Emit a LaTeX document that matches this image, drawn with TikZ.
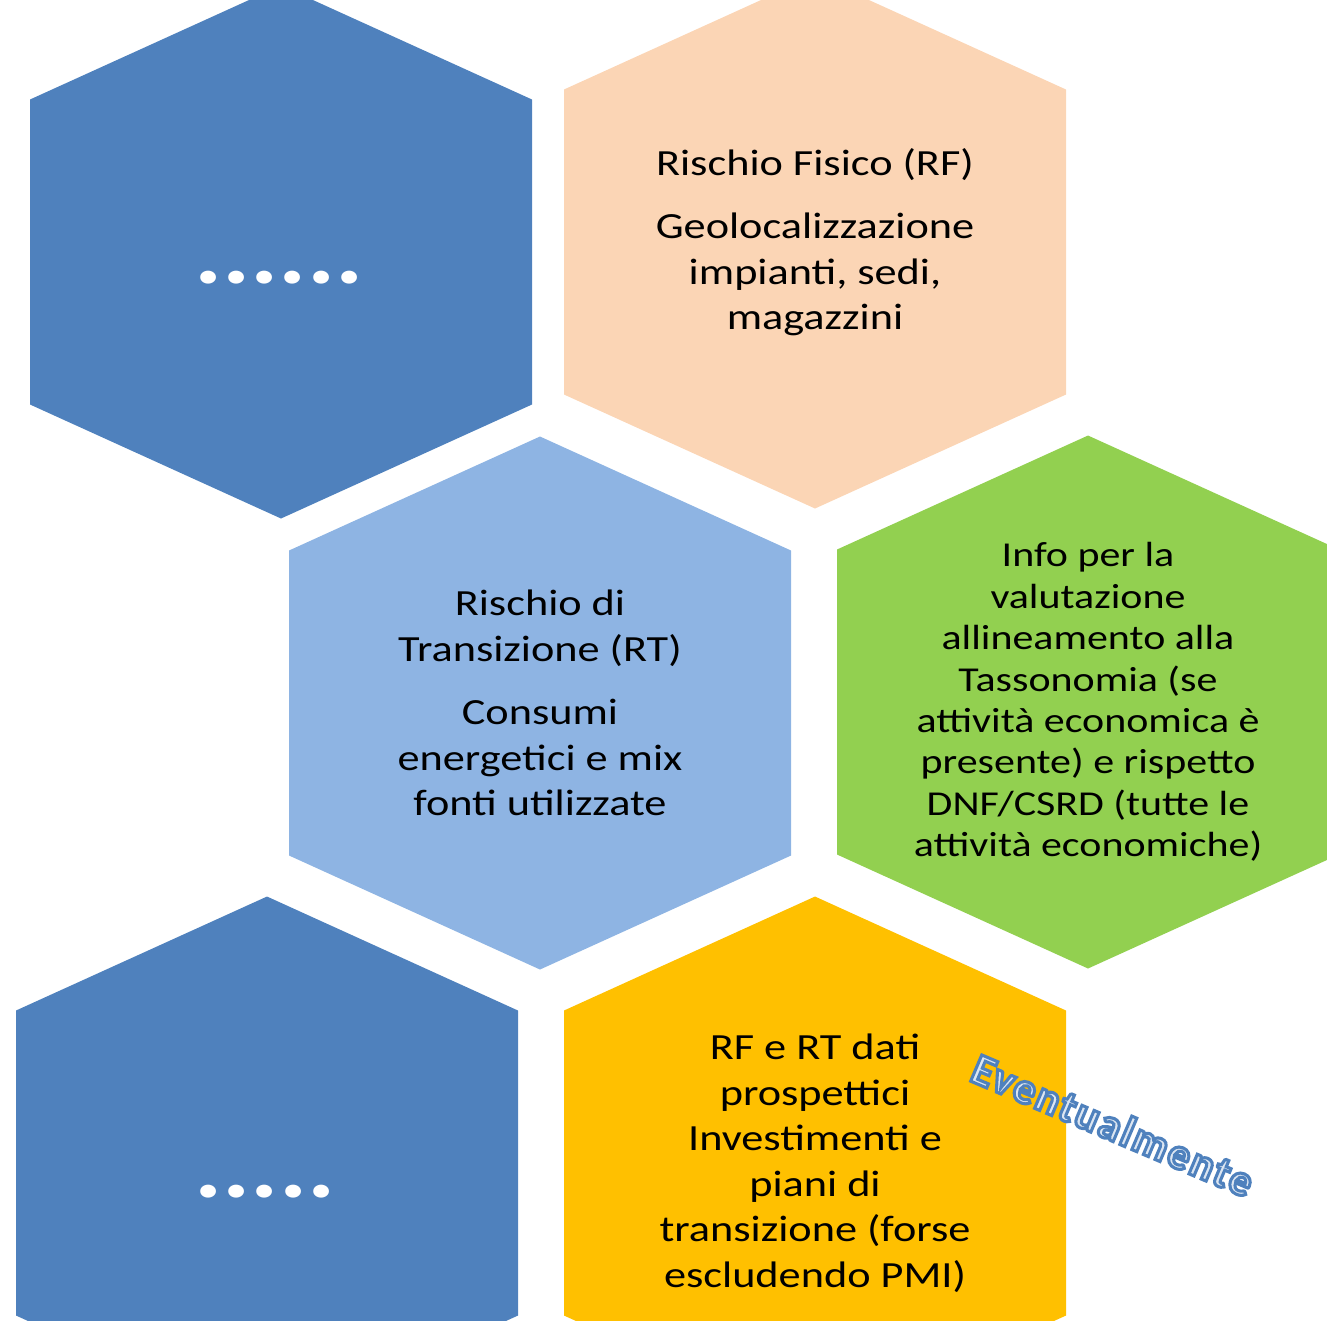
\documentclass[tikz,border=0pt]{standalone}
\usepackage{fontspec}
\setmainfont{Carlito}[FakeStretch=1.2]
\newfontfamily\evtfont{Carlito Bold}[FakeBold=7, LetterSpace=5]
\usepackage{tikz}
\usetikzlibrary{positioning}
\definecolor{hexdark}{HTML}{4F81BD}
\definecolor{hexpeach}{HTML}{FBD5B5}
\definecolor{hexlight}{HTML}{8EB4E3}
\definecolor{hexgreen}{HTML}{92D050}
\definecolor{hexyellow}{HTML}{FFC000}
\definecolor{evfill}{HTML}{DCE6F2}
\tikzstyle{cell} = [align=center, text=black, inner sep=0pt, font=\fontsize{21}{25.9}\selectfont]
\tikzstyle{dots} = [text=white, inner sep=0pt, font=\fontsize{50}{50}\selectfont\bfseries]
\tikzset{
  hexcell/.style={fill=#1},
  smallcell/.style={cell, font=\fontsize{19.9}{23.6}\selectfont}
}
\newcommand{\hexpath}{(-251,-152.5) -- (0,-266.5) -- (251,-152.5) -- (251,152.5) -- (0,266.5) -- (-251,152.5) -- cycle}

\begin{document}
\begin{tikzpicture}[x=0.02cm, y=-0.02cm]
    \clip (0,0) rectangle (1327,1320);
    % centres
    \coordinate (cDotsA) at (281,252);
    \coordinate (cRF)    at (815,242);
    \coordinate (cRT)    at (540,703);
    \coordinate (cTax)   at (1088,702);
    \coordinate (cDotsB) at (267,1163);
    \coordinate (cPlan)  at (815,1163);
    % hexagons
    \fill[hexcell=hexdark,   shift={(cDotsA)}] \hexpath;
    \fill[hexcell=hexpeach,  shift={(cRF)}]    \hexpath;
    \fill[hexcell=hexlight,  shift={(cRT)}]    \hexpath;
    \fill[hexcell=hexgreen,  shift={(cTax)}]   \hexpath;
    \fill[hexcell=hexdark,   shift={(cDotsB)}] \hexpath;
    \fill[hexcell=hexyellow, shift={(cPlan)}]  \hexpath;
    % nodes
    \node (DotsA) [dots] at (279,278) {......};
    \node (RF)    [cell] at (cRF) {Rischio Fisico (RF)\\[0.36cm] Geolocalizzazione\\ impianti, sedi,\\ magazzini};
    \node (RT)    [cell] at (cRT) {Rischio di\\ Transizione (RT)\\[0.36cm] Consumi\\ energetici e mix\\ fonti utilizzate};
    \node (Tax)   [smallcell] at (cTax) {Info per la\\ valutazione\\ allineamento alla\\ Tassonomia (se\\ attività economica è\\ presente) e rispetto\\ DNF/CSRD (tutte le\\ attività economiche)};
    \node (DotsB) [dots] at (265,1192) {.....};
    \node (Plan)  [cell] at (cPlan) {RF e RT dati\\ prospettici\\ Investimenti e\\ piani di\\ transizione (forse\\ escludendo PMI)};
    \node (Evt) [rotate=-23, inner sep=0pt, font=\fontsize{25}{25}\evtfont] at (1113,1125) {\color{evfill}\special{pdf:code 0.310 0.506 0.741 RG}Eventualmente};
\end{tikzpicture}
\end{document}
